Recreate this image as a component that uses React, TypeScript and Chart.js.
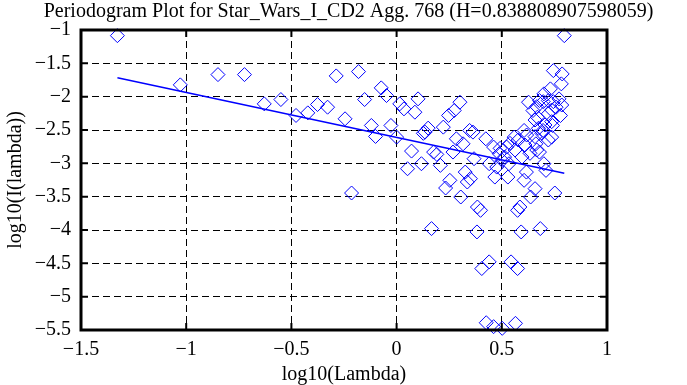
import React, { useEffect, useRef } from 'react';
import { Chart, registerables } from 'chart.js';

Chart.register(...registerables);

const titleText = 'Periodogram Plot for Star_Wars_I_CD2 Agg. 768 (H=0.838808907598059)';
const xAxisTitle = 'log10(Lambda)';
const yAxisTitle = 'log10(I(lambda))';

const xTickValues = [-1.5, -1, -0.5, 0, 0.5, 1];
const yTickValues = [-5.5, -5, -4.5, -4, -3.5, -3, -2.5, -2, -1.5, -1];

const pointX = [
  -1.327, -1.028, -0.849, -0.723, -0.629, -0.55, -0.478, -0.422, -0.376, -0.328,
  -0.287, -0.245, -0.214, -0.181, -0.152, -0.12, -0.1, -0.073, -0.048, -0.027,
  0.0, 0.015, 0.035, 0.102, 0.087, 0.071, 0.052, 0.118, 0.135, 0.15,
  0.166, 0.176, 0.191, 0.208, 0.222, 0.233, 0.247, 0.253, 0.268, 0.274,
  0.301, 0.284, 0.305, 0.316, 0.326, 0.336, 0.351, 0.347, 0.363, 0.368,
  0.384, 0.399, 0.382, 0.405, 0.44, 0.426, 0.461, 0.424, 0.44, 0.461,
  0.467, 0.476, 0.488, 0.502, 0.513, 0.523, 0.529, 0.534, 0.544, 0.565,
  0.502, 0.575, 0.575, 0.586, 0.592, 0.559, 0.596, 0.606, 0.617, 0.627,
  0.606, 0.637, 0.648, 0.658, 0.669, 0.683, 0.679, 0.662, 0.696, 0.7,
  0.71, 0.721, 0.721, 0.731, 0.737, 0.741, 0.752, 0.745, 0.772, 0.783,
  0.787, 0.779, 0.797, 0.758, 0.7, 0.679, 0.745, 0.785, 0.697, 0.666,
  0.737, 0.658, 0.737, 0.705, 0.674, 0.69, 0.658, 0.618, 0.578, 0.61,
  0.721, 0.666, 0.634, 0.539, 0.563, 0.492, 0.127,
];

const pointY = [
  -1.085, -1.823, -1.669, -1.669, -2.108, -2.043, -2.282, -2.243, -2.118, -2.158,
  -1.689, -2.332, -3.445, -1.624, -2.043, -2.432, -2.597, -1.868, -1.983, -2.432,
  -2.607, -2.108, -2.183, -2.033, -2.233, -2.816, -3.081, -3.006, -2.532, -2.472,
  -3.979, -2.831, -2.866, -3.031, -2.457, -3.37, -2.282, -3.255, -2.831, -2.208,
  -2.083, -2.632, -3.505, -2.707, -3.131, -3.28, -3.23, -2.507, -2.532, -2.931,
  -3.655, -3.705, -4.029, -4.578, -4.478, -5.391, -5.45, -2.632, -3.006, -2.756,
  -3.206, -3.056, -2.856, -2.956, -2.906, -2.756, -3.206, -3.006, -4.478, -5.4,
  -5.475, -4.578, -3.705, -3.655, -4.029, -2.607, -2.906, -2.507, -3.131, -2.083,
  -3.255, -3.505, -2.208, -3.38, -2.308, -3.979, -2.831, -2.707, -2.507, -3.006,
  -3.106, -2.058, -2.258, -1.883, -2.607, -2.432, -3.445, -1.609, -2.033, -1.808,
  -1.659, -2.283, -1.085, -2.158, -1.958, -2.058, -2.075, -2.125, -2.075, -2.15,
  -2.2, -2.35, -2.375, -2.425, -2.475, -2.55, -2.6, -2.575, -2.65, -2.725,
  -2.65, -2.8, -2.85, -2.7, -2.8, -2.775, -2.55,
];

const fitX = [-1.327, 0.797];
const fitY = [-1.715, -3.15];

const BLUE = '#0000ff';
const FONT = 'Liberation Serif';

const fmt = (v: number) => (v < 0 ? '\u2212' : '') + String(Math.abs(v));

const framePlugin = {
  id: 'frame',
  afterDraw(chart: any) {
    const { ctx, chartArea, scales } = chart;
    const { left, right, top, bottom } = chartArea;
    ctx.save();
    ctx.strokeStyle = '#000';
    ctx.setLineDash([]);
    ctx.lineWidth = 2;
    const tl = 7;
    ctx.beginPath();
    for (const v of xTickValues) {
      const x = scales.x.getPixelForValue(v);
      ctx.moveTo(x, bottom);
      ctx.lineTo(x, bottom - tl);
      ctx.moveTo(x, top);
      ctx.lineTo(x, top + tl);
    }
    for (const v of yTickValues) {
      const y = scales.y.getPixelForValue(v);
      ctx.moveTo(left, y);
      ctx.lineTo(left + tl, y);
      ctx.moveTo(right, y);
      ctx.lineTo(right - tl, y);
    }
    ctx.stroke();
    ctx.lineWidth = 3;
    ctx.strokeRect(left, top, right - left, bottom - top);
    ctx.restore();
  },
};

export default function App() {
  const ref = useRef<HTMLCanvasElement | null>(null);

  useEffect(() => {
    if (!ref.current) return;
    const scatter = pointX.map((x, i) => ({ x, y: pointY[i] }));
    const fit = fitX.map((x, i) => ({ x, y: fitY[i] }));
    const chart = new Chart(ref.current, {
      type: 'scatter',
      data: {
        datasets: [
          {
            type: 'scatter',
            data: scatter,
            pointStyle: 'rectRot',
            pointRadius: 7,
            pointBorderWidth: 1,
            pointBorderColor: BLUE,
            pointBackgroundColor: 'rgba(0,0,0,0)',
            clip: false,
            yAxisID: 'y',
          } as any,
          {
            type: 'line',
            data: fit,
            borderColor: BLUE,
            borderWidth: 1.5,
            pointRadius: 0,
            fill: false,
            clip: false,
            yAxisID: 'y',
          } as any,
        ],
      },
      options: {
        animation: false,
        responsive: false,
        layout: { padding: { right: 0, top: 0, left: 10, bottom: 0 } },
        plugins: {
          legend: { display: false },
          tooltip: { enabled: false },
          title: {
            display: true,
            text: titleText,
            color: '#000',
            font: { family: FONT, size: 20, weight: 'normal' },
            padding: { top: 0, bottom: 6 },
          },
        },
        scales: {
          x: {
            type: 'linear',
            min: -1.5,
            max: 1,
            afterFit: (s: any) => {
              s.height = 55;
            },
            afterBuildTicks: (s: any) => {
              s.ticks = xTickValues.map((value) => ({ value }));
            },
            ticks: {
              color: '#000',
              font: { family: FONT, size: 20 },
              padding: 8,
              maxRotation: 0,
              callback: (v: any) => fmt(Number(v)),
            },
            grid: { color: '#000', lineWidth: 1, drawTicks: false },
            border: { display: false, dash: [7, 4] },
            title: {
              display: true,
              text: xAxisTitle,
              color: '#000',
              font: { family: FONT, size: 20 },
              padding: { top: 0, bottom: -2 },
            },
          },
          y: {
            type: 'linear',
            min: -5.5,
            max: -1,
            afterFit: (s: any) => {
              s.width = 71;
            },
            afterBuildTicks: (s: any) => {
              s.ticks = yTickValues.map((value) => ({ value }));
            },
            ticks: {
              color: '#000',
              font: { family: FONT, size: 20 },
              padding: 10,
              callback: (v: any) => fmt(Number(v)),
            },
            grid: { color: '#000', lineWidth: 1, drawTicks: false },
            border: { display: false, dash: [7, 4] },
            title: {
              display: true,
              text: yAxisTitle,
              color: '#000',
              font: { family: FONT, size: 20 },
              padding: { top: -6, bottom: 0 },
            },
          },
          yRight: {
            type: 'linear',
            position: 'right',
            min: -5.5,
            max: -1,
            display: true,
            afterFit: (s: any) => {
              s.width = 80;
            },
            ticks: { display: false },
            grid: { display: false, drawTicks: false },
            border: { display: false },
            title: { display: false },
          },
        },
      },
      plugins: [framePlugin],
    });
    return () => chart.destroy();
  }, []);

  return (
    <div style={{ position: 'fixed', left: 0, top: 0, width: 687, height: 385, background: '#fff' }}>
      <canvas ref={ref} width={687} height={385} style={{ display: 'block' }} />
    </div>
  );
}
